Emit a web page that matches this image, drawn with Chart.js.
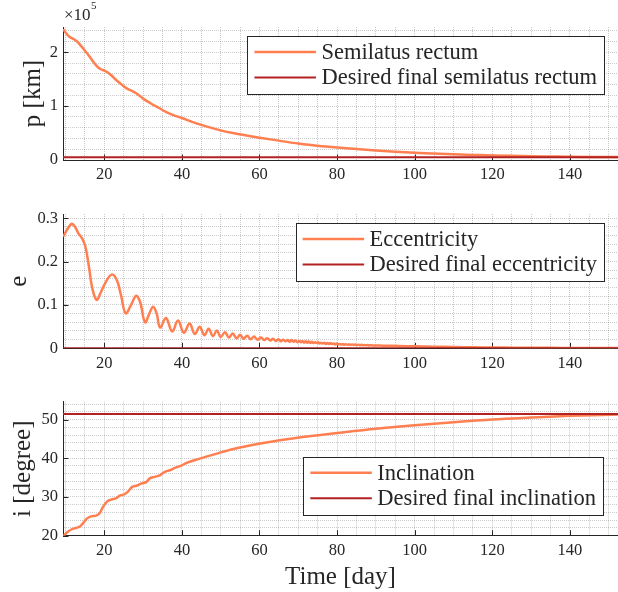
<!DOCTYPE html>
<html><head><meta charset="utf-8">
<script src="https://cdn.jsdelivr.net/npm/chart.js@4.4.1/dist/chart.umd.min.js"></script>
<style>
html,body{margin:0;padding:0;background:#fff;}
#wrap{position:relative;width:618px;height:592px;overflow:hidden;background:#fff}
#wrap canvas{position:absolute;left:0;top:0}
</style></head><body>
<div id="wrap">
<canvas id="cP" width="618" height="592"></canvas>
<canvas id="cE" width="618" height="592"></canvas>
<canvas id="cI" width="618" height="592"></canvas>
</div>
<script>
// ---------- data ----------
const dayRange = [9.36, 152.4];
const dayMajorTicks = [20, 40, 60, 80, 100, 120, 140];

const pDays = [9.4,10.2,11.0,12.0,13.0,14.0,15.0,16.0,17.0,18.0,19.0,20.0,21.0,22.0,23.0,24.0,25.0,26.0,27.0,28.0,29.0,30.0,32.0,34.0,36.0,38.0,40.0,43.0,46.5,50.0,53.5,57.0,60.0,65.0,70.0,75.0,80.0,85.0,90.0,95.0,100.0,105.0,110.0,115.0,120.0,125.0,130.0,135.0,140.0,145.0,152.4];
const pKm = [243000,235000,229000,225000,220000,212000,203000,194000,184000,175000,169000,166000,162000,156000,149000,143000,137000,132000,129000,125000,120000,114000,105000,97000,89000,83000,78000,70000,62000,55000,49500,45000,41500,36000,30500,26500,23200,20300,17800,15500,13600,12000,10500,9500,8500,7700,7000,6500,6000,5700,5500];
const pDesiredKm = 5000;
const pMajorTicks = [0, 100000, 200000];

const eDays = [
 9.4,11.5,12.4,13.3,14.4,15.2,16.1,16.9,18.0,19.0,
 20.2,21.9,23.2,24.3,25.5,26.9,28.2,29.2,30.5,31.6,
 32.6,33.5,34.4,35.9,37.5,39.0,40.5,42.0,43.3,44.6,
 45.8,46.9,48.0,49.0,50.0,51.1,52.1,53.1,54.1,55.0,
 55.9,56.8,57.7,58.6,59.5,60.4,61.2,62.0,62.8,63.5,
 64.2,64.9,65.5,66.1,66.7,67.3,67.8,68.3,68.8,69.3,
 69.8,70.3,70.7,71.1,71.5,71.9,72.3,72.7,73.1,73.5,
 73.9,74.3,74.7,75.1,75.5,75.9,76.3,76.7,77.1,77.5,
 77.9,78.3,78.7,79.1,79.5,79.9,80.3,80.7,81.1,81.5,
 81.9,82.3,82.7,83.1,83.5,83.9,84.3,84.7,85.1,85.5,
 85.9,86.3,86.7,87.1,87.5,87.9,88.3,88.7,89.1,92,
 96,100,105,110,115,120,125,130,135,140,
 145,152.4];
const eValues = [
 .258,.287,.281,.266,.252,.232,.185,.139,.112,.127,
 .150,.170,.158,.123,.081,.100,.121,.108,.060,.080,
 .096,.080,.048,.070,.039,.064,.036,.057,.033,.050,
 .030,.045,.028,.041,.026,.037,.025,.034,.023,.031,
 .022,.029,.021,.027,.020,.025,.019,.023,.018,.022,
 .017,.021,.016,.020,.016,.019,.015,.019,.015,.018,
 .014,.017,.014,.017,.013,.016,.013,.016,.012,.015,
 .012,.014,.012,.014,.011,.013,.011,.013,.010,.012,
 .010,.012,.010,.011,.009,.011,.009,.0102,.0086,.0098,
 .0083,.0095,.0081,.0092,.0079,.0089,.0077,.0087,.0075,.0084,
 .0073,.0080,.0071,.0078,.0069,.0075,.0067,.0072,.0066,.0061,
 .0053,.0045,.0037,.0030,.0024,.0019,.0015,.0012,.0010,.0008,
 .0006,.0005];
const eDesired = 0;
const eMajorTicks = [0, 0.1, 0.2, 0.3];

const iDays = [9.4,10.0,10.6,11.5,12.7,13.6,14.5,15.5,16.6,17.9,18.8,19.6,20.7,21.8,23.1,24.1,25.2,26.1,27.2,28.3,29.6,30.9,31.7,33.0,34.3,35.6,36.9,38.2,39.9,41.2,44.6,49.0,53.3,60.2,67.1,75.7,80,90,100,110,120,130,140,152.4];
const iDegrees = [19.8,20.5,21.0,21.6,22.0,22.3,23.2,24.4,25.0,25.2,25.8,27.3,28.8,29.3,29.7,30.4,30.7,31.4,32.6,32.9,33.5,33.9,34.8,35.2,35.6,36.5,36.9,37.5,38.1,38.8,39.9,41.2,42.4,43.8,44.9,46.0,46.5,47.6,48.5,49.3,50.0,50.5,50.95,51.3];
const iDesired = 51.4;
const iMajorTicks = [20, 30, 40, 50];

// ---------- style ----------
const ORANGE = '#FF7F50', RED = '#B22222', INK = '#262626';
const FONT = '"Liberation Serif", "Times New Roman", serif';
Chart.defaults.font.family = FONT;
Chart.defaults.color = INK;

function stepTicks(min, max, step) {
  const out = [];
  const k0 = Math.ceil(min / step - 1e-9), k1 = Math.floor(max / step + 1e-9);
  for (let k = k0; k <= k1; k++) out.push(+(k * step).toFixed(6));
  return out;
}
function isMajor(v, majors) { return majors.some(m => Math.abs(m - v) < 1e-7 * Math.max(1, Math.abs(m))); }

const innerTicks = {
  id: 'innerTicks',
  beforeDatasetsDraw(chart, args, o) {
    const {ctx, chartArea: a, scales: {x, y}} = chart;
    ctx.save();
    ctx.strokeStyle = INK; ctx.lineWidth = 1;
    for (const v of o.x) {
      const px = Math.round(x.getPixelForValue(v)) + 0.5;
      ctx.beginPath(); ctx.moveTo(px, a.bottom); ctx.lineTo(px, a.bottom - 5.5); ctx.stroke();
    }
    for (const v of o.y) {
      const py = Math.round(y.getPixelForValue(v)) + 0.5;
      ctx.beginPath(); ctx.moveTo(a.left, py); ctx.lineTo(a.left + 5.5, py); ctx.stroke();
    }
    ctx.restore();
  }
};

const boxLegend = {
  id: 'boxLegend',
  afterDatasetsDraw(chart, args, o) {
    const {ctx, chartArea: a} = chart;
    const items = chart.data.datasets.map(d => ({text: d.label, color: d.borderColor, w: d.borderWidth}));
    ctx.save();
    ctx.font = o.fontSize + 'px ' + FONT;
    const tw = Math.max(...items.map(it => ctx.measureText(it.text).width));
    const padL = 7, sample = 61.5, gap = 5.5, padR = 7, h = 58;
    const bw = padL + sample + gap + tw + padR;
    const right = a.right - o.right;
    const left = right - bw;
    const top = (o.top != null) ? a.top + o.top : a.bottom - o.bottom - h;
    ctx.fillStyle = '#fff';
    ctx.fillRect(left, top, bw, h);
    ctx.strokeStyle = INK; ctx.lineWidth = 1;
    ctx.strokeRect(Math.round(left) + 0.5, Math.round(top) + 0.5, Math.round(bw), Math.round(h));
    const rows = [top + 16, top + 41.5];
    items.forEach((it, k) => {
      ctx.strokeStyle = it.color; ctx.lineWidth = it.w;
      ctx.beginPath(); ctx.moveTo(left + padL, rows[k]); ctx.lineTo(left + padL + sample, rows[k]); ctx.stroke();
      ctx.fillStyle = INK; ctx.textBaseline = 'middle'; ctx.textAlign = 'left';
      ctx.fillText(it.text, left + padL + sample + gap, rows[k] + 1);
    });
    ctx.restore();
  }
};

const expLabel = {
  id: 'expLabel',
  afterDraw(chart, args, o) {
    if (!o.text) return;
    const {ctx, chartArea: a} = chart;
    ctx.save();
    ctx.fillStyle = INK; ctx.textBaseline = 'alphabetic'; ctx.textAlign = 'left';
    ctx.font = '17px ' + FONT;
    ctx.fillText(o.text, a.left + 1, 20);
    const w = ctx.measureText(o.text).width;
    ctx.font = '11px ' + FONT;
    ctx.fillText(o.sup, a.left + 1 + w + 0.5, 9);
    ctx.restore();
  }
};

function makeChart(id, c) {
  const yMinor = stepTicks(c.yMin, c.yMax, c.yStep);
  const xMinor = stepTicks(dayRange[0], dayRange[1], 5);
  const gridColor = 'rgba(38,38,38,0.24)';
  const tickFont = {family: FONT, size: 16.5};
  const titleFont = {family: FONT, size: 25};
  const curve = c.smooth ? {tension: 0.4} : {cubicInterpolationMode: 'monotone'};
  return new Chart(document.getElementById(id), {
    type: 'line',
    data: {
      datasets: [
        Object.assign({label: c.label, data: c.xs.map((x, k) => ({x, y: c.ys[k]})), borderColor: ORANGE, borderWidth: 2.5,
         pointRadius: 0, order: 2}, curve),
        {label: c.desiredLabel, data: [{x: dayRange[0], y: c.desired}, {x: dayRange[1], y: c.desired}],
         borderColor: RED, borderWidth: 2, pointRadius: 0, order: 1}
      ]
    },
    options: {
      responsive: false, animation: false, devicePixelRatio: 1,
      layout: {padding: {top: c.top, left: 0, right: 0, bottom: 0}},
      plugins: {
        legend: {display: false}, tooltip: {enabled: false},
        innerTicks: {x: dayMajorTicks, y: c.yMajor},
        boxLegend: Object.assign({fontSize: 22.5, right: 14}, c.legend),
        expLabel: c.exp || {}
      },
      scales: {
        x: {
          type: 'linear', min: dayRange[0], max: dayRange[1],
          afterBuildTicks(s) { s.ticks = xMinor.map(v => ({value: v})); },
          afterFit(s) { s.height = 592 - c.bottom; s.paddingLeft = 0; s.paddingRight = 0; s.paddingTop = 0; s.paddingBottom = 0; },
          ticks: {autoSkip: false, maxRotation: 0, padding: 5, font: tickFont, color: INK,
                  callback: v => isMajor(v, dayMajorTicks) ? String(v) : ''},
          grid: {color: gridColor, lineWidth: 1, drawTicks: false},
          border: {display: true, color: INK, width: 1, dash: [1, 1]},
          title: c.xTitle ? {display: true, text: c.xTitle, font: titleFont, color: INK, padding: {top: 0, bottom: 0}} : {display: false}
        },
        y: {
          type: 'linear', min: c.yMin, max: c.yMax,
          afterBuildTicks(s) { s.ticks = yMinor.map(v => ({value: v})); },
          afterFit(s) { s.width = 63; s.paddingTop = 0; s.paddingBottom = 0; s.paddingLeft = 0; s.paddingRight = 0; },
          ticks: {autoSkip: false, padding: 5, font: tickFont, color: INK,
                  callback: v => isMajor(v, c.yMajor) ? c.fmt(v) : ''},
          grid: {color: gridColor, lineWidth: 1, drawTicks: false},
          border: {display: true, color: INK, width: 1, dash: [1, 1]},
          title: {display: true, text: c.yTitle, font: titleFont, color: INK, padding: {top: c.yTitlePad, bottom: 0}}
        }
      }
    },
    plugins: [innerTicks, boxLegend, expLabel]
  });
}

makeChart('cP', {
  xs: pDays, ys: pKm, desired: pDesiredKm,
  label: 'Semilatus rectum', desiredLabel: 'Desired final semilatus rectum',
  top: 27, bottom: 160, yMin: 0, yMax: 247000, yStep: 20000, yMajor: pMajorTicks,
  fmt: v => String(Math.round(v / 100000)), yTitle: 'p [km]', yTitlePad: 18,
  legend: {top: 9}, exp: {text: '\u00d710', sup: '5'}
});
makeChart('cE', {
  xs: eDays, ys: eValues, desired: eDesired, smooth: true,
  label: 'Eccentricity', desiredLabel: 'Desired final eccentricity',
  top: 214, bottom: 348.3, yMin: 0, yMax: 0.31, yStep: 0.02, yMajor: eMajorTicks,
  fmt: v => String(+v.toFixed(1)), yTitle: 'e', yTitlePad: 4.5,
  legend: {top: 9}
});
makeChart('cI', {
  xs: iDays, ys: iDegrees, desired: iDesired,
  label: 'Inclination', desiredLabel: 'Desired final inclination',
  top: 401.7, bottom: 535.7, yMin: 20, yMax: 54.6, yStep: 2, yMajor: iMajorTicks,
  fmt: v => String(v), yTitle: 'i [degree]', yTitlePad: 8.5,
  legend: {bottom: 21, right: 15}, xTitle: 'Time [day]'
});
</script>
</body></html>
